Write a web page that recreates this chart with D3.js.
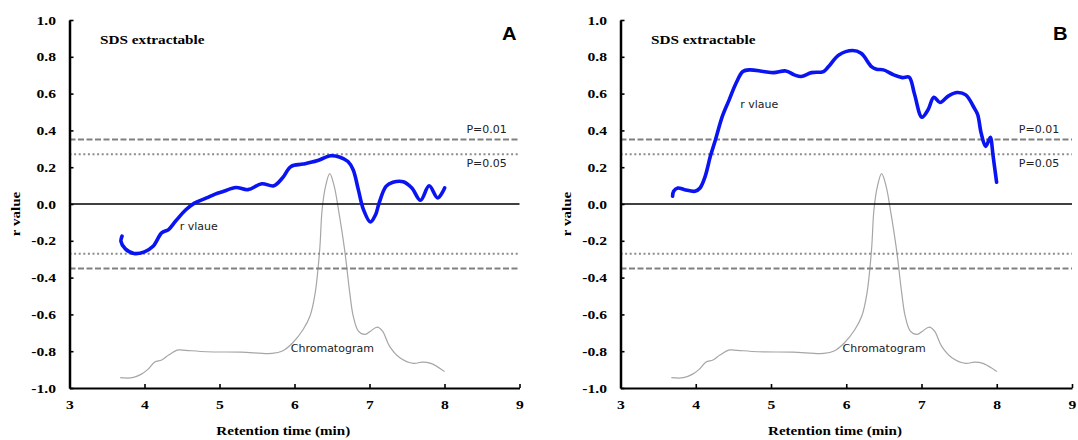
<!DOCTYPE html>
<html>
<head>
<meta charset="utf-8">
<script src="https://cdn.jsdelivr.net/npm/d3@7"></script>
<style>
  body { margin: 0; background: #fff; }
  svg { display: block; }
</style>
</head>
<body>
<svg id="chart" width="1078" height="440"></svg>
<script>
// ---- data ----
const xTicks = [3, 4, 5, 6, 7, 8, 9];
const yTicks = [-1.0, -0.8, -0.6, -0.4, -0.2, 0.0, 0.2, 0.4, 0.6, 0.8, 1.0];
const panelLetters = ["A", "B"];
const panelTitle = "SDS extractable";
const sig01 = [0.35, -0.35];   // P=0.01 critical r
const sig05 = [0.27, -0.27];   // P=0.05 critical r

// size-exclusion chromatogram trace (shared by both panels, arbitrary scale)
const chromTime = [3.676, 3.837, 3.953, 4.045, 4.137, 4.229, 4.321, 4.436, 4.505, 4.827, 5.287, 5.701,
  5.839, 5.977, 6.115, 6.207, 6.276, 6.336, 6.368, 6.414, 6.470, 6.530, 6.590, 6.668, 6.737, 6.783,
  6.852, 6.944, 7.013, 7.105, 7.174, 7.266, 7.404, 7.588, 7.703, 7.818, 8.002];
const chromValue = [-0.944, -0.944, -0.926, -0.899, -0.859, -0.848, -0.821, -0.794, -0.794, -0.803, -0.805, -0.812,
  -0.799, -0.754, -0.682, -0.609, -0.483, -0.248, -0.031, 0.096, 0.165, 0.096, -0.040, -0.248, -0.483, -0.609,
  -0.691, -0.709, -0.691, -0.669, -0.691, -0.772, -0.835, -0.866, -0.859, -0.866, -0.911];

// correlation coefficient along retention time, panel A
const timeA = [3.700, 3.686, 3.745, 3.861, 3.999, 4.114, 4.229, 4.321, 4.413, 4.551, 4.666, 4.827, 4.942,
  5.057, 5.218, 5.379, 5.563, 5.724, 5.839, 5.954, 6.115, 6.299, 6.483, 6.598, 6.713, 6.782, 6.851, 6.920,
  7.012, 7.081, 7.128, 7.220, 7.312, 7.450, 7.565, 7.680, 7.795, 7.910, 8.002];
const rA = [-0.175, -0.203, -0.244, -0.269, -0.260, -0.230, -0.157, -0.139, -0.094, -0.031, 0.005, 0.033, 0.054,
  0.069, 0.090, 0.078, 0.110, 0.099, 0.141, 0.204, 0.217, 0.235, 0.262, 0.255, 0.231, 0.186, 0.078, -0.031,
  -0.098, -0.058, 0.005, 0.096, 0.118, 0.121, 0.087, 0.020, 0.099, 0.033, 0.087];

// correlation coefficient along retention time, panel B
const timeB = [3.692, 3.706, 3.761, 3.852, 3.989, 4.057, 4.125, 4.194, 4.262, 4.353, 4.444, 4.535, 4.626,
  4.718, 4.900, 5.036, 5.196, 5.310, 5.401, 5.538, 5.697, 5.765, 5.902, 6.084, 6.198, 6.335, 6.403, 6.494,
  6.631, 6.745, 6.836, 6.904, 7.005, 7.087, 7.164, 7.246, 7.360, 7.474, 7.588, 7.702, 7.747, 7.793, 7.852,
  7.897, 7.916, 7.952, 7.998];
const rB = [0.042, 0.069, 0.087, 0.078, 0.069, 0.087, 0.150, 0.259, 0.349, 0.476, 0.566, 0.656, 0.720,
  0.729, 0.720, 0.714, 0.723, 0.702, 0.693, 0.714, 0.720, 0.747, 0.810, 0.834, 0.819, 0.747, 0.732, 0.729,
  0.702, 0.687, 0.689, 0.602, 0.472, 0.512, 0.580, 0.552, 0.588, 0.606, 0.593, 0.521, 0.485, 0.385, 0.313,
  0.349, 0.363, 0.259, 0.118];

// ---- layout ----
const svg = d3.select("#chart");
svg.append("rect").attr("width", 1078).attr("height", 440).attr("fill", "#fff");

const SERIF = "'Liberation Serif', 'Times New Roman', serif";
const SANS = "'DejaVu Sans', Verdana, sans-serif";
const SX = 1.2; // horizontal stretch of the serif lettering
const Y_PAD = 13.5;

const panels = [
  { letter: panelLetters[0], x0: 69.5, x1: 519.5, time: timeA, r: rA, rLabel: [4.47, -0.141] },
  { letter: panelLetters[1], x0: 620.5, x1: 1072, time: timeB, r: rB, rLabel: [4.59, 0.52] }
];

const y = d3.scaleLinear().domain([-1, 1]).range([388, 20]);

function stretched(g, x, yy, str, opts) {
  const t = g.append("g").attr("transform", `translate(${x},${yy})${opts.rotate ? " rotate(" + opts.rotate + ")" : ""}`)
    .append("text")
    .attr("transform", `scale(${opts.sx || SX},1)`)
    .attr("font-family", opts.family || SERIF)
    .attr("font-weight", "bold")
    .attr("font-size", opts.size || 13)
    .attr("text-anchor", opts.anchor || "start")
    .attr("fill", "#000")
    .text(str);
  if (opts.dy) t.attr("dy", opts.dy);
  return t;
}

panels.forEach(p => {
  const x = d3.scaleLinear().domain([3, 9]).range([p.x0, p.x1]);
  const g = svg.append("g");

  // chromatogram
  const chromLine = d3.line()
    .x((d, i) => x(chromTime[i]))
    .y(d => y(d))
    .curve(d3.curveCatmullRom.alpha(0.5));
  g.append("path")
    .attr("d", chromLine(chromValue))
    .attr("fill", "none")
    .attr("stroke", "#a6a6a6")
    .attr("stroke-width", 1.2);

  // significance thresholds
  sig01.forEach(v => {
    g.append("line")
      .attr("x1", x(3)).attr("x2", x(9)).attr("y1", y(v)).attr("y2", y(v))
      .attr("stroke", "#808080").attr("stroke-width", 2)
      .attr("stroke-dasharray", "6,2.5");
  });
  sig05.forEach(v => {
    g.append("line")
      .attr("x1", x(3)).attr("x2", x(9)).attr("y1", y(v)).attr("y2", y(v))
      .attr("stroke", "#8c8c8c").attr("stroke-width", 2)
      .attr("stroke-dasharray", "2,2.6");
  });

  // zero reference
  g.append("line")
    .attr("x1", x(3)).attr("x2", x(9)).attr("y1", y(0)).attr("y2", y(0))
    .attr("stroke", "#000").attr("stroke-width", 1.5);

  // r value curve
  const rLine = d3.line()
    .x((d, i) => x(p.time[i]))
    .y(d => y(d))
    .curve(d3.curveCatmullRom.alpha(0.5));
  g.append("path")
    .attr("d", rLine(p.r))
    .attr("fill", "none")
    .attr("stroke", "#0a14f0")
    .attr("stroke-width", 3.6)
    .attr("stroke-linecap", "round")
    .attr("stroke-linejoin", "round");

  // axes
  const yAxis = d3.axisLeft(y).tickValues(yTicks).tickFormat(d => d.toFixed(1))
    .tickSizeInner(-4).tickSizeOuter(0).tickPadding(Y_PAD);
  const gy = g.append("g").attr("transform", `translate(${p.x0},0)`).call(yAxis)
    .attr("font-family", SERIF).attr("font-size", 13).attr("font-weight", "bold");
  gy.select(".domain").attr("stroke", "#000").attr("stroke-width", 2.5);
  gy.selectAll(".tick line").attr("stroke", "#000").attr("stroke-width", 1.6);
  gy.selectAll(".tick text").attr("fill", "#000")
    .attr("x", -Y_PAD / SX).attr("transform", `scale(${SX},1)`);

  const xAxis = d3.axisBottom(x).tickValues(xTicks).tickFormat(d3.format("d"))
    .tickSizeInner(-4).tickSizeOuter(0).tickPadding(12);
  const gx = g.append("g").attr("transform", `translate(0,${y(-1)})`).call(xAxis)
    .attr("font-family", SERIF).attr("font-size", 13).attr("font-weight", "bold");
  gx.select(".domain").attr("stroke", "#000").attr("stroke-width", 2);
  gx.selectAll(".tick line").attr("stroke", "#000").attr("stroke-width", 1.6);
  gx.selectAll(".tick text").attr("fill", "#000").attr("transform", `scale(${SX},1)`);

  // axis titles
  stretched(g, x(5.85), 435, "Retention time (min)", { anchor: "middle", size: 13, sx: 1.16 });
  stretched(g, p.x0 - 54, 214, "r value", { anchor: "middle", size: 13, rotate: -90, dy: "0.35em", sx: 1.16 });

  // panel heading and letter
  stretched(g, p.x0 + 30.5, 44, panelTitle, { size: 12.5, sx: 1.22 });
  stretched(g, p.x0 + 447, 39.5, p.letter, { family: "'Liberation Sans', Arial, sans-serif", size: 18, anchor: "end", sx: 1.12 });

  // annotations
  const note = (tx, ty, str, anchor) => g.append("text")
    .attr("x", x(tx)).attr("y", y(ty))
    .attr("font-family", SANS).attr("font-size", 11)
    .attr("fill", "#222").attr("text-anchor", anchor || "start")
    .text(str);
  note(8.83, 0.386, "P=0.01", "end");
  note(8.83, 0.201, "P=0.05", "end");
  note(p.rLabel[0], p.rLabel[1], "r vlaue");
  note(5.95, -0.804, "Chromatogram");
});
</script>
</body>
</html>
